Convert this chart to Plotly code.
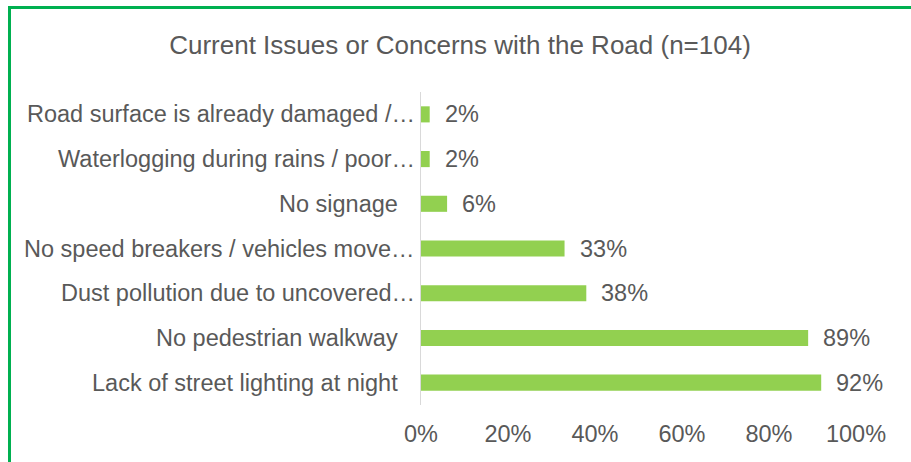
import plotly.graph_objects as go

categories = [
    "Lack of street lighting at night",
    "No pedestrian walkway",
    "Dust pollution due to uncovered…",
    "No speed breakers / vehicles move…",
    "No signage",
    "Waterlogging during rains / poor…",
    "Road surface is already damaged /…",
]
values = [0.92, 0.89, 0.38, 0.33, 0.06, 0.02, 0.02]
value_labels = ["92%", "89%", "38%", "33%", "6%", "2%", "2%"]
tick_vals = [0, 0.2, 0.4, 0.6, 0.8, 1.0]
tick_text = ["0%", "20%", "40%", "60%", "80%", "100%"]

W, H = 911, 462
ml, mr, mt, mb = 421, 55, 92, 57
pw = W - ml - mr
ph = H - mt - mb

def px_to_paper_x(px):
    return (px - ml) / pw

def px_to_paper_y(py):
    return (H - mb - py) / ph

FONT = "Liberation Sans, Arial"
FS = 23.5
GREY = "#595959"

fig = go.Figure()
fig.add_trace(go.Bar(
    x=values, y=categories, orientation="h",
    marker=dict(color="#92D050", line=dict(width=0)),
    hoverinfo="skip",
))

for v, lab, cat in zip(values, value_labels, categories):
    fig.add_annotation(x=v, y=cat, text=lab, showarrow=False,
                       xanchor="left", xshift=13,
                       font=dict(family=FONT, size=FS, color=GREY))

# category labels (Excel-style: truncated labels sit closer to the axis)
for cat in categories:
    shift = -4 if cat.endswith("…") else -21
    fig.add_annotation(x=0, xref="paper", y=cat, yref="y", text=cat,
                       showarrow=False, xanchor="right", xshift=shift,
                       font=dict(family=FONT, size=FS, color=GREY))

border = "#00B050"
fig.add_shape(type="line", xref="paper", yref="paper",
              x0=px_to_paper_x(9.5), x1=px_to_paper_x(915),
              y0=px_to_paper_y(7.5), y1=px_to_paper_y(7.5),
              line=dict(color=border, width=3))
fig.add_shape(type="line", xref="paper", yref="paper",
              x0=px_to_paper_x(9.5), x1=px_to_paper_x(9.5),
              y0=px_to_paper_y(6), y1=px_to_paper_y(470),
              line=dict(color=border, width=3))

fig.update_layout(
    width=W, height=H,
    margin=dict(l=ml, r=mr, t=mt, b=mb, autoexpand=False),
    paper_bgcolor="white", plot_bgcolor="white",
    showlegend=False,
    bargap=0.64,
    title=dict(text="Current Issues or Concerns with the Road (n=104)",
               x=460 / W, xanchor="center", y=1 - 45 / H, yanchor="middle",
               font=dict(family=FONT, size=26, color=GREY)),
    xaxis=dict(range=[0, 1.0], tickvals=tick_vals, ticktext=tick_text,
               showgrid=False, zeroline=False, showline=False, automargin=False,
               ticks="", ticklabelstandoff=12,
               tickfont=dict(family=FONT, size=FS, color=GREY)),
    yaxis=dict(showgrid=False, zeroline=False, showline=True, automargin=False,
               linecolor="#D9D9D9", linewidth=1, ticks="",
               showticklabels=False),
)

fig.write_html("out.html")
